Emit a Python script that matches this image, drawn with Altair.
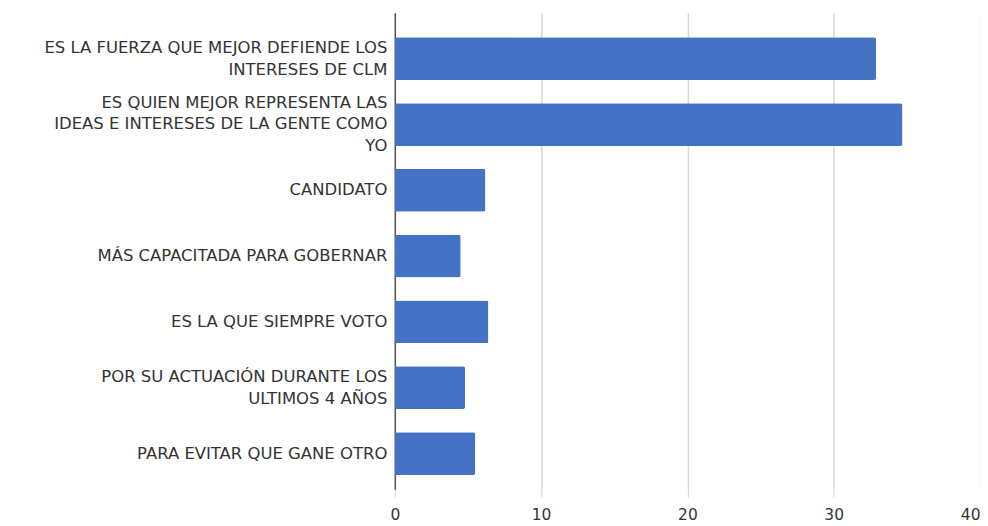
import altair as alt
import pandas as pd

categories = [
    "ES LA FUERZA QUE MEJOR DEFIENDE LOS|INTERESES DE CLM",
    "ES QUIEN MEJOR REPRESENTA LAS|IDEAS E INTERESES DE LA GENTE COMO|YO",
    "CANDIDATO",
    "MÁS CAPACITADA PARA GOBERNAR",
    "ES LA QUE SIEMPRE VOTO",
    "POR SU ACTUACIÓN DURANTE LOS|ULTIMOS 4 AÑOS",
    "PARA EVITAR QUE GANE OTRO",
]
values = [32.9, 34.7, 6.2, 4.5, 6.4, 4.8, 5.5]
x_ticks = [0, 10, 20, 30, 40]

df = pd.DataFrame({"cat": categories, "val": values})

label_offset = {
    "condition": [
        {"test": "length(split(datum.value, '|')) == 3", "value": -22},
        {"test": "length(split(datum.value, '|')) == 2", "value": -11},
    ],
    "value": 0,
}

x_label_align = {
    "condition": {"test": "datum.value == 40", "value": "right"},
    "value": "center",
}

chart = alt.Chart(df).mark_bar(color="#4472C4", cornerRadius=2).encode(
    y=alt.Y(
        "cat:N",
        sort=categories,
        title=None,
        scale=alt.Scale(paddingInner=0.35, paddingOuter=0.296, align=0.63),
        axis=alt.Axis(
            labelExpr="split(datum.value, '|')",
            labelFont="DejaVu Sans",
            labelFontSize=16.5,
            labelColor="#333333",
            labelPadding=8,
            labelLineHeight=22,
            labelLimit=400,
            labelOffset=label_offset,
            ticks=False,
            domain=True,
            domainColor="#555555",
            domainWidth=1.5,
            grid=False,
        ),
    ),
    x=alt.X(
        "val:Q",
        title=None,
        scale=alt.Scale(domain=[0, 40], nice=False),
        axis=alt.Axis(
            values=x_ticks,
            labelFont="DejaVu Sans",
            labelFontSize=15.5,
            labelColor="#333333",
            labelPadding=10,
            labelFlush=False,
            labelOverlap=False,
            labelAlign=x_label_align,
            domain=False,
            ticks=True,
            tickSize=8,
            tickColor="#d9d9d9",
            grid=True,
            gridColor="#d9d9d9",
            gridWidth=1.5,
        ),
    ),
).properties(
    width=587,
    height=478,
    autosize=alt.AutoSizeParams(type="none"),
    padding={"left": 388, "top": 4, "right": 0, "bottom": 36},
).configure_view(stroke=None)

chart.save("out.html", embed_options={"renderer": "svg", "actions": False})
